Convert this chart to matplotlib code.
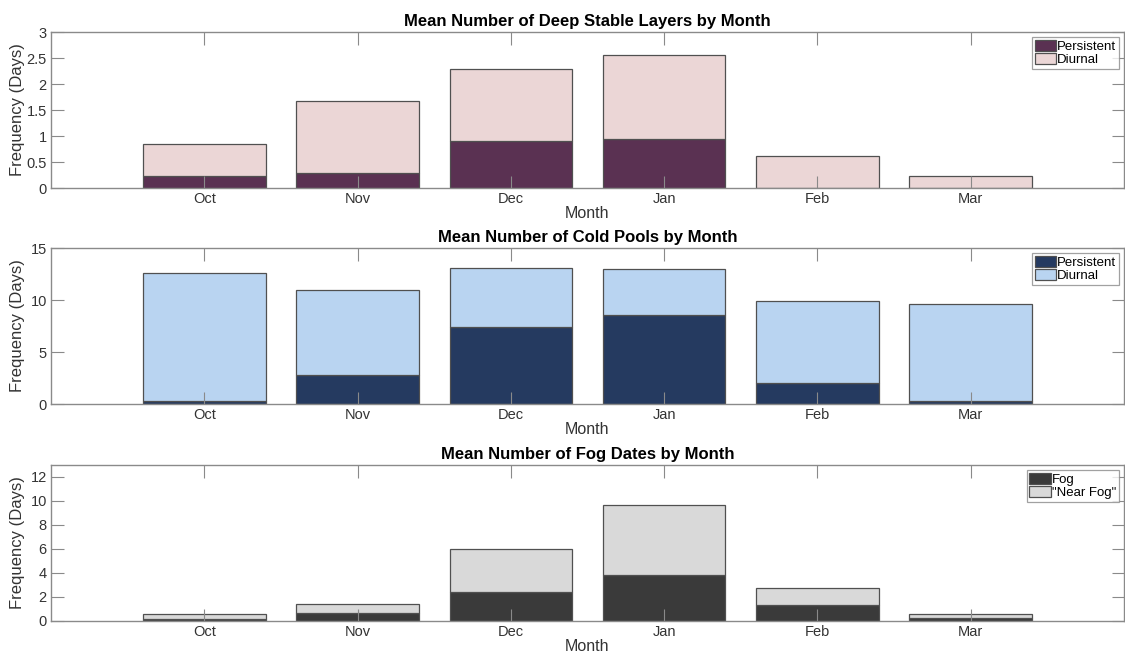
import matplotlib
matplotlib.use("Agg")
import matplotlib.pyplot as plt
import numpy as np

plt.rcParams['font.family'] = ['Liberation Sans', 'DejaVu Sans']

months = ["Oct", "Nov", "Dec", "Jan", "Feb", "Mar"]

# Deep stable layers (mean days per month)
dsl_persistent = [0.24, 0.29, 0.90, 0.95, 0.0, 0.0]
dsl_total = [0.84, 1.67, 2.28, 2.55, 0.62, 0.23]

# Cold pools
cp_persistent = [0.26, 2.83, 7.36, 8.51, 2.06, 0.33]
cp_total = [12.62, 10.99, 13.10, 12.98, 9.89, 9.57]

# Fog dates
fog = [0.14, 0.64, 2.45, 3.82, 1.34, 0.25]
fog_total = [0.56, 1.42, 6.04, 9.67, 2.76, 0.58]

panels = [
    dict(title="Mean Number of Deep Stable Layers by Month",
         lower=dsl_persistent, total=dsl_total,
         labels=["Persistent", "Diurnal"],
         colors=["#5a3152", "#ebd6d6"],
         ylim=(0, 3), yticks=[0, 0.5, 1, 1.5, 2, 2.5, 3],
         yticklabels=["0", "0.5", "1", "1.5", "2", "2.5", "3"]),
    dict(title="Mean Number of Cold Pools by Month",
         lower=cp_persistent, total=cp_total,
         labels=["Persistent", "Diurnal"],
         colors=["#253a60", "#b9d4f1"],
         ylim=(0, 15), yticks=[0, 5, 10, 15],
         yticklabels=["0", "5", "10", "15"]),
    dict(title="Mean Number of Fog Dates by Month",
         lower=fog, total=fog_total,
         labels=["Fog", "\"Near Fog\""],
         colors=["#3a3a3a", "#d9d9d9"],
         ylim=(0, 13), yticks=[0, 2, 4, 6, 8, 10, 12],
         yticklabels=["0", "2", "4", "6", "8", "10", "12"]),
]

fig = plt.figure(figsize=(11.25, 6.52), dpi=100)
W, H = 1125, 652
# axes boxes in pixel coordinates: (left, top, right, bottom)
boxes = [(51, 32, 1124, 188), (51, 248, 1124, 404), (51, 465, 1124, 621)]

spine_col = "#8a8a8a"
text_col = "#333333"
x = np.arange(1, len(months) + 1)

for p, (l, t, r, b) in zip(panels, boxes):
    ax = fig.add_axes([l / W, 1 - b / H, (r - l) / W, (b - t) / H])
    lower = np.array(p["lower"])
    upper = np.array(p["total"]) - lower
    ax.bar(x, lower, width=0.8, color=p["colors"][0],
           edgecolor="#505050", linewidth=0.9, label=p["labels"][0], zorder=1)
    ax.bar(x, upper, bottom=lower, width=0.8, color=p["colors"][1],
           edgecolor="#505050", linewidth=0.9, label=p["labels"][1], zorder=1)
    ax.set_xlim(0, 7)
    ax.set_ylim(*p["ylim"])
    ax.set_xticks(x)
    ax.set_xticklabels(months)
    ax.set_yticks(p["yticks"])
    ax.set_yticklabels(p["yticklabels"])
    ax.set_axisbelow(False)
    ax.tick_params(direction="in", length=9, width=0.8, color=spine_col,
                   labelcolor=text_col, labelsize=10.5, top=True, right=True,
                   pad=3)
    for s in ax.spines.values():
        s.set_color(spine_col)
        s.set_linewidth(1.0)
    ax.set_title(p["title"], fontsize=12, fontweight="bold", color="black", pad=4)
    ax.set_xlabel("Month", fontsize=11.5, color=text_col, labelpad=0)
    ax.set_ylabel("Frequency (Days)", fontsize=12, color=text_col, labelpad=0)
    ax.yaxis.set_label_coords(-26 / (r - l), 0.5)
    leg = ax.legend(loc="upper right", fontsize=9.5, frameon=True, fancybox=False,
                    borderpad=0.2, labelspacing=0.0, handlelength=1.6,
                    handleheight=0.9, handletextpad=0.1, borderaxespad=0.4)
    leg.get_frame().set_edgecolor("#8a8a8a")
    leg.get_frame().set_linewidth(0.9)
    for txt in leg.get_texts():
        txt.set_color("black")

fig.savefig("out.png", dpi=100)
